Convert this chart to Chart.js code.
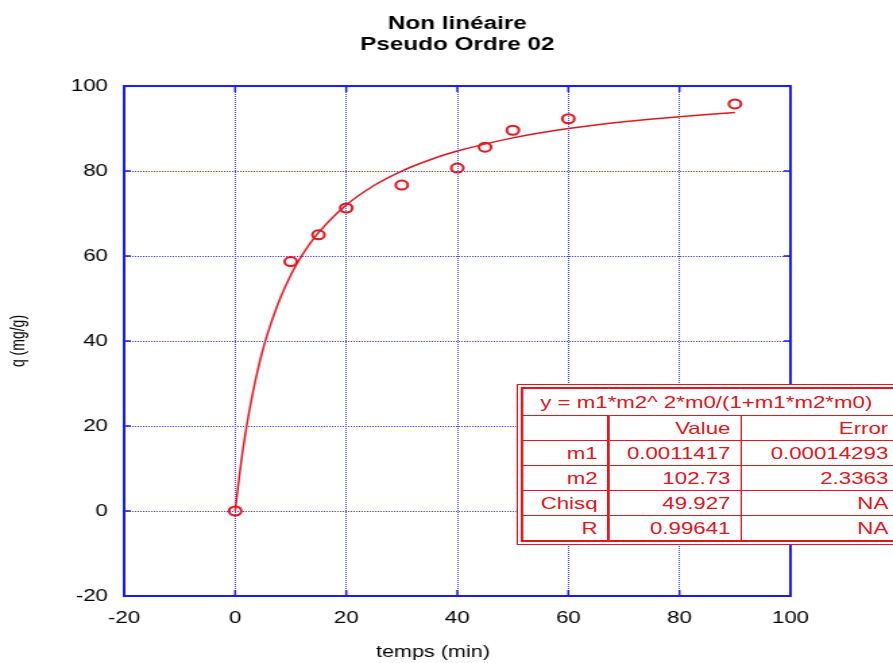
<!DOCTYPE html>
<html>
<head>
<meta charset="utf-8">
<script src="https://cdn.jsdelivr.net/npm/chart.js@4"></script>
<style>
  html, body { margin: 0; padding: 0; background: #fff; overflow: hidden; }
  #outer { width: 893px; height: 663px; overflow: hidden; position: relative; }
  /* the reference picture is stretched sideways, so the whole drawing is too */
  #wrap { position: absolute; left: 0; top: 0; width: 662px; height: 663px; transform: scaleX(1.34894); transform-origin: 0 0; }
  #fitBox {
    position: absolute; left: 382.5px; top: 384px; width: 279px;
    border: 4px double #e8141c; background: #fff;
  }
  #fitBox table { width: 279px; border-collapse: collapse; table-layout: fixed; font-family: "Liberation Sans", Arial, sans-serif; font-size: 16.5px; color: #e8141c; }
  #fitBox td { border: 1px solid #e8141c; height: 24px; padding: 0 7px 0 0; text-align: right; white-space: nowrap; overflow: hidden; }
  #fitBox td.c1 { border-right: 2px solid #e8141c; }
  #fitBox td.eq { text-align: left; padding: 0 0 0 13px; height: 26px; }
</style>
</head>
<body>
<div id="outer">
<div id="wrap">
  <canvas id="chart" width="662" height="663"></canvas>
  <div id="fitBox"><table id="fitTable"><colgroup><col style="width:64px"><col style="width:98px"><col style="width:117px"></colgroup></table></div>
</div>
</div>
<script>
// data
const timeMin = [0, 10, 15, 20, 30, 40, 45, 50, 60, 90];
const qMeasured = [0, 58.7, 65.0, 71.3, 76.7, 80.7, 85.6, 89.6, 92.3, 95.8];

// fitted curve
const fitTime = [0, 1, 2, 3, 4, 5, 6, 8, 10, 12, 15, 20, 25, 30, 35, 40, 50, 60, 70, 80, 90];
const fitQ = [0, 10.8, 19.5, 26.7, 32.8, 38.0, 42.4, 49.7, 55.5, 60.1, 65.5, 72.0, 76.6, 80.0, 82.6, 84.7, 87.8, 90.0, 91.6, 92.8, 93.8];

// fit results table
const fitEquation = "y = m1*m2^ 2*m0/(1+m1*m2*m0)";
const fitHeader = ["", "Value", "Error"];
const fitRows = [
  ["m1", "0.0011417", "0.00014293"],
  ["m2", "102.73", "2.3363"],
  ["Chisq", "49.927", "NA"],
  ["R", "0.99641", "NA"]
];

const titleLines = ["Non linéaire", "Pseudo Ordre 02"];
const xLabel = "temps (min)";
const yLabel = "q (mg/g)";
const xTicks = [-20, 0, 20, 40, 60, 80, 100];
const yTicks = [-20, 0, 20, 40, 60, 80, 100];

const RED = "#e8141c";
const BLUE = "#1a1aff";
const GRID = "#3a3aff";
const FONT = "'Liberation Sans', Arial, sans-serif";

// Table
const table = document.getElementById("fitTable");
let rowsHtml = `<tr><td class="eq" colspan="3">${fitEquation}</td></tr>`;
[fitHeader].concat(fitRows).forEach(r => {
  rowsHtml += `<tr><td class="c1">${r[0]}</td><td>${r[1]}</td><td>${r[2]}</td></tr>`;
});
table.insertAdjacentHTML("beforeend", rowsHtml);

// frame, inner tick marks and axis titles
const frame = {
  id: "frame",
  afterDraw(chart) {
    const a = chart.chartArea;
    const ctx = chart.ctx;
    const xs = chart.scales.x, ys = chart.scales.y;
    ctx.save();
    ctx.strokeStyle = BLUE;
    ctx.lineWidth = 2;
    ctx.strokeRect(a.left, a.top, a.right - a.left, a.bottom - a.top);
    ctx.beginPath();
    xTicks.forEach(v => {
      const px = xs.getPixelForValue(v);
      ctx.moveTo(px, a.bottom); ctx.lineTo(px, a.bottom - 6);
      ctx.moveTo(px, a.top); ctx.lineTo(px, a.top + 6);
    });
    yTicks.forEach(v => {
      const py = ys.getPixelForValue(v);
      ctx.moveTo(a.left, py); ctx.lineTo(a.left + 5, py);
      ctx.moveTo(a.right, py); ctx.lineTo(a.right - 5, py);
    });
    ctx.lineWidth = 1.5;
    ctx.stroke();

    ctx.fillStyle = "#000";
    ctx.font = "16px " + FONT;
    ctx.textAlign = "center";
    ctx.textBaseline = "middle";
    ctx.fillText(xLabel, (a.left + a.right) / 2 - 18, 653);
    ctx.translate(14, (a.top + a.bottom) / 2);
    ctx.rotate(-Math.PI / 2);
    ctx.font = "14px " + FONT;
    ctx.fillText(yLabel, 0, 0);
    ctx.restore();
  }
};

new Chart(document.getElementById("chart"), {
  type: "scatter",
  data: {
    datasets: [
      {
        label: "fit",
        data: fitTime.map((t, i) => ({ x: t, y: fitQ[i] })),
        showLine: true,
        borderColor: RED,
        borderWidth: 1.5,
        pointRadius: 0,
        tension: 0.3,
        order: 2
      },
      {
        label: "q",
        data: timeMin.map((t, i) => ({ x: t, y: qMeasured[i] })),
        borderColor: RED,
        backgroundColor: "rgba(255,255,255,0)",
        borderWidth: 2,
        pointRadius: 4.5,
        pointStyle: "circle",
        order: 1
      }
    ]
  },
  options: {
    responsive: false,
    animation: false,
    layout: { padding: { left: 0, right: 76, top: 0, bottom: 0 } },
    plugins: {
      legend: { display: false },
      tooltip: { enabled: false },
      title: {
        display: true,
        text: titleLines,
        color: "#000",
        font: { family: FONT, size: 18, weight: "bold", lineHeight: 1.14 },
        padding: { top: 14, bottom: 31 },
        fullSize: false
      }
    },
    scales: {
      x: {
        type: "linear",
        min: -20, max: 100,
        afterBuildTicks: s => { s.ticks = xTicks.map(v => ({ value: v })); },
        afterFit: s => { s.height = 67; },
        grid: { color: GRID, lineWidth: 1, drawTicks: false },
        border: { display: false, dash: [1, 1] },
        ticks: { color: "#000", padding: 13, font: { family: FONT, size: 16.5 } }
      },
      y: {
        type: "linear",
        min: -20, max: 100,
        afterBuildTicks: s => { s.ticks = yTicks.map(v => ({ value: v })); },
        afterFit: s => { s.width = 92; },
        grid: { color: GRID, lineWidth: 1, drawTicks: false },
        border: { display: false, dash: [1, 1] },
        ticks: { color: "#000", padding: 12, font: { family: FONT, size: 16.5 } }
      }
    }
  },
  plugins: [frame]
});
</script>
</body>
</html>
